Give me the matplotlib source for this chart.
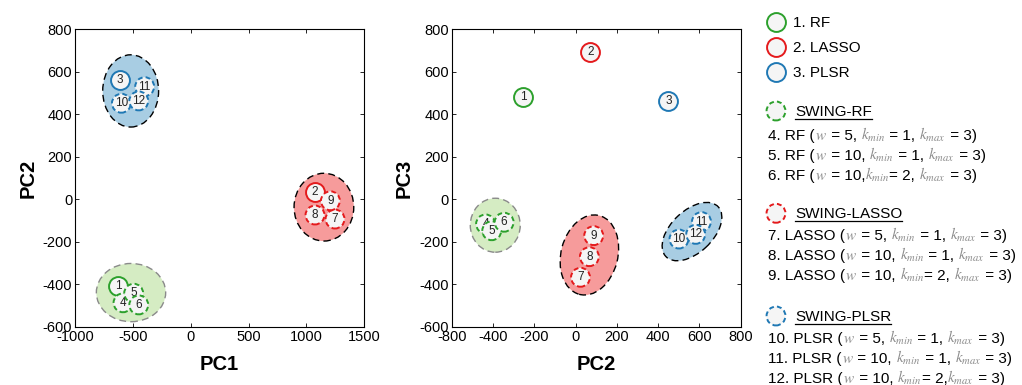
import matplotlib
matplotlib.use("Agg")
import matplotlib.pyplot as plt
from matplotlib.patches import Ellipse

plt.rcParams['font.family'] = ['Liberation Sans', 'DejaVu Sans']
plt.rcParams['mathtext.fontset'] = 'stix'

W, H = 1022, 385
# ---------------- data ----------------
ids = [1, 2, 3, 4, 5, 6, 7, 8, 9, 10, 11, 12]
groups = ['RF', 'LASSO', 'PLSR', 'RF', 'RF', 'RF', 'LASSO', 'LASSO', 'LASSO', 'PLSR', 'PLSR', 'PLSR']
solid = [True, True, True, False, False, False, False, False, False, False, False, False]
# left panel (PC1 vs PC2)
left_pc1 = [-628, 1072, -614, -585, -493, -449, 1247, 1074, 1207, -599, -398, -449]
left_pc2 = [-407, 36, 561, -487, -442, -497, -93, -74, -7, 452, 530, 463]
# right panel (PC2 vs PC3)
right_pc2 = [-254, 72, 450, -436, -406, -346, 24, 67, 88, 501, 610, 582]
right_pc3 = [480, 692, 461, -116, -148, -108, -367, -270, -171, -187, -105, -165]

# cluster ellipses: (group, cx, cy, width, height, angle)
ell1_group = ['PLSR', 'LASSO', 'RF']
ell1_cx = [-519, 1151, -516]
ell1_cy = [510, -37, -439]
ell1_w = [483, 516, 599]
ell1_h = [340, 319, 274]
ell1_ang = [0, 0, 0]

ell2_group = ['RF', 'LASSO', 'PLSR']
ell2_cx = [-389, 67, 564]
ell2_cy = [-122, -262, -152]
ell2_w = [242, 275, 345]
ell2_h = [254, 383, 200]
ell2_ang = [0, -15, 42]

x1_ticks = [-1000, -500, 0, 500, 1000, 1500]
x1_labels = ['-1000', '-500', '0', '500', '1000', '1500']
x2_ticks = [-600, -400, -200, 0, 200, 400, 600, 800]
x2_labels = ['-800', '-400', '-200', '0', '200', '400', '600', '800']
y_ticks = [-600, -400, -200, 0, 200, 400, 600, 800]
y_labels = ['-600', '-400', '-200', '0', '200', '400', '600', '800']

line_col = {'RF': '#2ca02c', 'LASSO': '#e41a1c', 'PLSR': '#1f78b4'}
fill_col = {'RF': '#d5ecc3', 'LASSO': '#f69b9b', 'PLSR': '#a8cde3'}
edge_col = {'RF': '#8a8a8a', 'LASSO': 'black', 'PLSR': 'black'}
face = '#f5f5f5'

fig = plt.figure(figsize=(W / 100, H / 100), dpi=100)

def px_rect(l, t, r, b):
    return [l / W, 1 - b / H, (r - l) / W, (b - t) / H]

ax1 = fig.add_axes(px_rect(75, 29.3, 364.3, 326.8))
ax2 = fig.add_axes(px_rect(451.7, 29.3, 740.7, 326.8))

MS = 185
DASH = (0, (2.5, 1.6))
def draw_panel(ax, xs, ys, eg, ecx, ecy, ew, eh, ea):
    for g, cx, cy, w, h, a in zip(eg, ecx, ecy, ew, eh, ea):
        ax.add_patch(Ellipse((cx, cy), w, h, angle=a, facecolor=fill_col[g],
                             edgecolor=edge_col[g], lw=1.0, ls=(0, (5, 3)), zorder=1))
    for i, (n, g, s, x, y) in enumerate(zip(ids, groups, solid, xs, ys)):
        ax.scatter([x], [y], s=MS, facecolor=face, edgecolor=line_col[g],
                   linewidths=1.4, linestyles='-' if s else DASH,
                   zorder=3 + 2 * i)
        ax.text(x, y, str(n), ha='center', va='center', fontsize=8.5,
                color='#222222', zorder=4 + 2 * i)

draw_panel(ax1, left_pc1, left_pc2, ell1_group, ell1_cx, ell1_cy, ell1_w, ell1_h, ell1_ang)
draw_panel(ax2, right_pc2, right_pc3, ell2_group, ell2_cx, ell2_cy, ell2_w, ell2_h, ell2_ang)

for ax, xt, xl in ((ax1, x1_ticks, x1_labels), (ax2, x2_ticks, x2_labels)):
    ax.set_xlim(xt[0], xt[-1])
    ax.set_ylim(y_ticks[0], y_ticks[-1])
    ax.set_xticks(xt)
    ax.set_xticklabels(xl)
    ax.set_yticks(y_ticks)
    ax.set_yticklabels(y_labels)
    ax.tick_params(direction='in', length=3, width=0.6, top=True, right=True,
                   labelsize=10.5, pad=2)
    for sp in ax.spines.values():
        sp.set_linewidth(0.8)

ax1.set_xlabel('PC1', fontsize=14.5, fontweight='bold', labelpad=8)
ax1.set_ylabel('PC2', fontsize=14.5, fontweight='bold', labelpad=4)
ax2.set_xlabel('PC2', fontsize=14.5, fontweight='bold', labelpad=8)
ax2.set_ylabel('PC3', fontsize=14.5, fontweight='bold', labelpad=4)

# ---------------- legend ----------------
leg_groups = ['RF', 'LASSO', 'PLSR']
leg_names = ['1. RF', '2. LASSO', '3. PLSR']
swing_titles = ['SWING-RF', 'SWING-LASSO', 'SWING-PLSR']
prefixes = ['RF', 'LASSO', 'PLSR']
swing_w = [['5', '10', '10'], ['5', '10', '10'], ['5', '10', '10']]
swing_kmin = [['1', '1', '2'], ['1', '1', '2'], ['1', '1', '2']]
swing_kmax = [['3', '3', '3'], ['3', '3', '3'], ['3', '3', '3']]

renderer = fig.canvas.get_renderer()
LFS = 11
GRAY = '#8c8c8c'

def rich(x, y, segs, size=LFS):
    """x, y in pixels (y = baseline from top)."""
    for s, c in segs:
        t = fig.text(x / W, 1 - y / H, s, color=c, fontsize=size, ha='left', va='baseline')
        x += t.get_window_extent(renderer).width
    return x

ov = fig.add_axes([0, 0, 1, 1], facecolor='none')
ov.set_xlim(0, W)
ov.set_ylim(H, 0)
ov.axis('off')

leg_x_mark = 776
leg_x_text = 793
for k, (g, name) in enumerate(zip(leg_groups, leg_names)):
    yc = 21.7 + 25 * k
    ov.scatter([leg_x_mark], [yc], s=MS, facecolor=face, edgecolor=line_col[g],
               linewidths=1.4, zorder=5)
    fig.text(leg_x_text / W, 1 - (yc + 5) / H, name, fontsize=LFS, ha='left', va='baseline')

title_y = [111, 213.3, 316]
first_line_y = [135, 235, 338.3]
for k, g in enumerate(leg_groups):
    yt = title_y[k]
    ov.scatter([leg_x_mark], [yt], s=MS, facecolor=face, edgecolor=line_col[g],
               linewidths=1.4, linestyles=DASH, zorder=5)
    x_end = rich(795, yt + 5, [(swing_titles[k], 'black')])
    ov.plot([795, x_end], [yt + 7.5, yt + 7.5], color='black', lw=0.9)
    for j in range(3):
        n = 3 + 3 * k + j + 1
        yb = first_line_y[k] + 20 * j + 5
        wv, kmn, kmx = swing_w[k][j], swing_kmin[k][j], swing_kmax[k][j]
        sep1 = ', ' if not (k == 0 and j == 2) else ','
        eq1 = ' = ' if j < 2 else '= '
        sep2 = ', ' if not (k == 2 and j == 2) else ','
        segs = [(f'{n}. {prefixes[k]} (', 'black'), (r'$w$', GRAY), (f' = {wv}{sep1}', 'black'),
                (r'$k_{min}$', GRAY), (f'{eq1}{kmn}{sep2}', 'black'),
                (r'$k_{max}$', GRAY), (f' = {kmx})', 'black')]
        rich(768, yb, segs)

fig.savefig('out.png', dpi=100)
